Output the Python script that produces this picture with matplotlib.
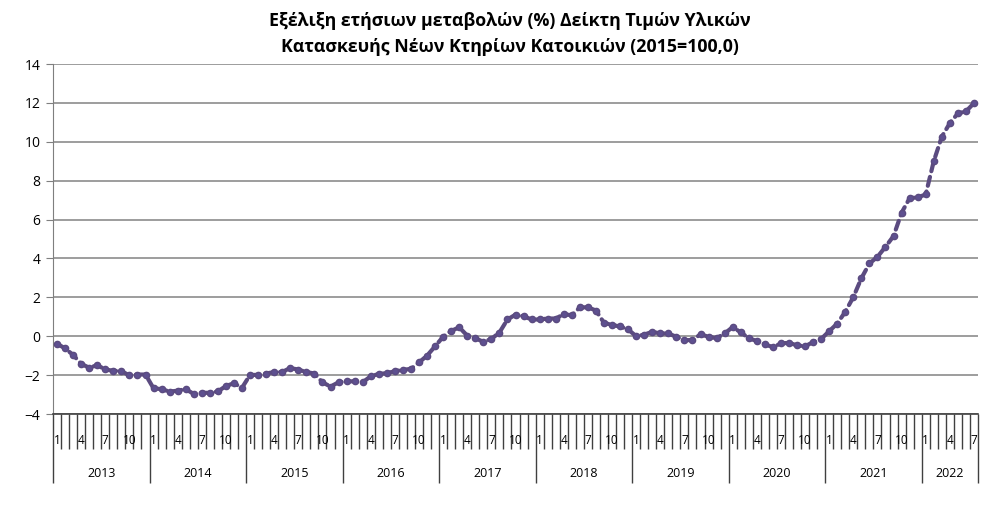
import matplotlib
matplotlib.use("Agg")
import matplotlib.pyplot as plt
from matplotlib.transforms import blended_transform_factory

plt.rcParams['font.family'] = ['Open Sans', 'DejaVu Sans']

years = ['2013', '2014', '2015', '2016', '2017', '2018', '2019', '2020', '2021', '2022']
months_in_year = [12, 12, 12, 12, 12, 12, 12, 12, 12, 7]
month_labels = ['1', '4', '7', '10']

values = [
    # 2013
    -0.38, -0.63, -0.96, -1.42, -1.62, -1.49, -1.71, -1.78, -1.79, -2.02, -1.97, -1.97,
    # 2014
    -2.68, -2.72, -2.85, -2.80, -2.72, -2.97, -2.91, -2.91, -2.84, -2.56, -2.42, -2.65,
    # 2015
    -1.99, -1.99, -1.92, -1.84, -1.84, -1.63, -1.72, -1.84, -1.92, -2.37, -2.59, -2.37,
    # 2016
    -2.32, -2.32, -2.37, -2.06, -1.94, -1.90, -1.80, -1.73, -1.68, -1.35, -1.00, -0.52,
    # 2017
    -0.03, 0.27, 0.46, 0.03, -0.10, -0.29, -0.14, 0.19, 0.86, 1.11, 1.03, 0.86,
    # 2018
    0.86, 0.91, 0.91, 1.13, 1.08, 1.48, 1.49, 1.32, 0.69, 0.58, 0.50, 0.35,
    # 2019
    0.00, 0.08, 0.23, 0.14, 0.14, -0.03, -0.20, -0.20, 0.10, -0.03, -0.10, 0.14,
    # 2020
    0.47, 0.20, -0.10, -0.25, -0.42, -0.56, -0.37, -0.34, -0.47, -0.52, -0.30, -0.14,
    # 2021
    0.26, 0.65, 1.26, 2.01, 2.98, 3.74, 4.08, 4.60, 5.15, 6.35, 7.10, 7.14,
    # 2022
    7.29, 9.00, 10.26, 10.96, 11.46, 11.56, 11.99,
]

title = "Εξέλιξη ετήσιων μεταβολών (%) Δείκτη Τιμών Υλικών\nΚατασκευής Νέων Κτηρίων Κατοικιών (2015=100,0)"

line_color = '#5B4B80'
grid_color = '#8C8C8C'

fig = plt.figure(figsize=(10.02, 5.05), dpi=100)
ax = fig.add_axes([53/1002, 1-414/505, (978-53)/1002, (414-64)/505])

n = len(values)
x = [i + 0.5 for i in range(n)]
ax.plot(x, values, color=line_color, lw=3, linestyle=(0, (2.2, 1.4)),
        dash_capstyle='round', marker='o', markersize=4.5,
        markerfacecolor='#5E5090', markeredgecolor=line_color, zorder=3)

ax.set_xlim(0, n)
ax.set_ylim(-4, 14)
ax.set_yticks(range(-4, 15, 2))
ax.yaxis.grid(True, color=grid_color, lw=1.2)
ax.set_axisbelow(True)
for s in ['top', 'right']:
    ax.spines[s].set_visible(False)
ax.spines['left'].set_color('#7F7F7F')
ax.spines['bottom'].set_color('#404040')
ax.spines['bottom'].set_linewidth(1.2)
ax.tick_params(axis='y', length=5, color='#7F7F7F', labelsize=10, pad=4)

# category axis: month ticks
year_starts = [0]
for m in months_in_year:
    year_starts.append(year_starts[-1] + m)
ax.set_xticks(year_starts)
ax.set_xticklabels([])
ax.set_xticks(range(0, n + 1), minor=True)
ax.tick_params(axis='x', which='minor', length=25, width=1, color='#404040')
ax.tick_params(axis='x', which='major', length=50, width=1, color='#404040')

trans = blended_transform_factory(ax.transData, ax.transAxes)
pos = 0
for yr, m in zip(years, months_in_year):
    for k in range(m):
        lbl = str(k + 1)
        if lbl in month_labels:
            ax.text(pos + k + 0.5, -0.075, lbl, transform=trans, ha='center', va='center',
                    fontsize=8.5)
    ax.text(pos + m / 2, -0.17, yr, transform=trans, ha='center', va='center', fontsize=9)
    pos += m

fig.text(0.509, 0.977, title, ha='center', va='top', fontsize=12.8, fontweight='bold',
         linespacing=1.6)

fig.savefig('out.png', dpi=100)
